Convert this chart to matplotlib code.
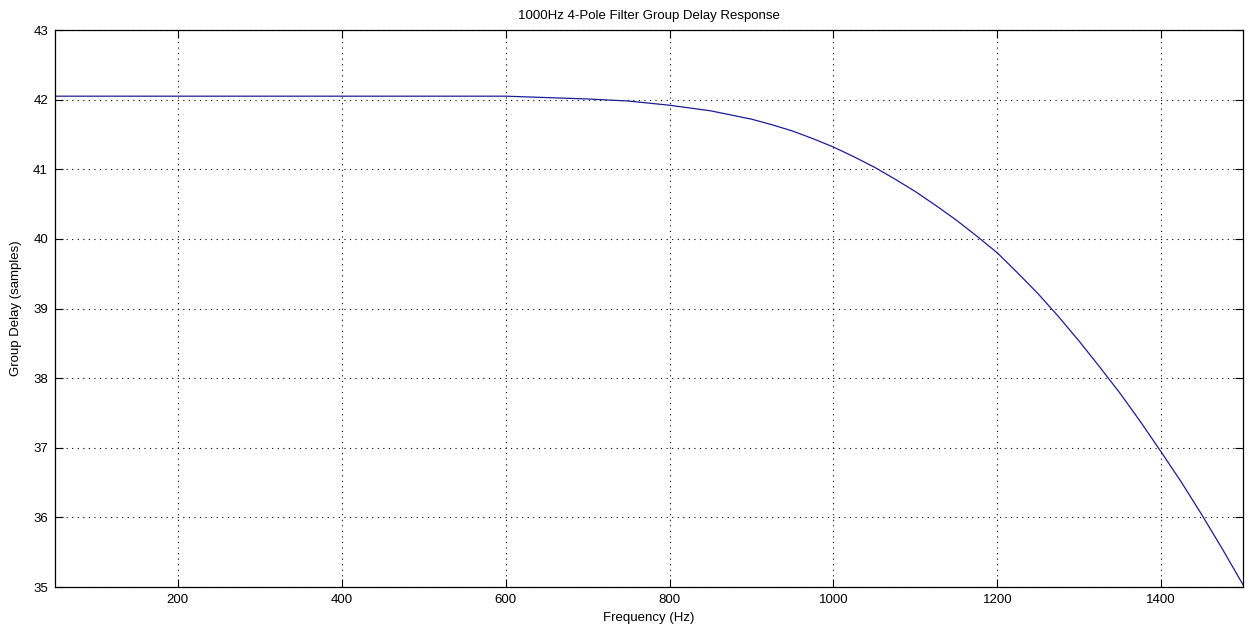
import numpy as np
import matplotlib
matplotlib.use('Agg')
import matplotlib.pyplot as plt

plt.rcParams['font.family'] = ['Liberation Sans', 'DejaVu Sans']

# group delay (Hz, samples)
freq_hz = [50, 600, 650, 700, 750, 800, 850, 900, 925, 950, 975, 1000,
           1025, 1050, 1075, 1100, 1125, 1150, 1175, 1200,
           1225, 1250, 1275, 1300, 1325, 1350, 1375, 1400, 1425, 1450, 1475, 1500]
delay_samples = [42.05, 42.05, 42.03, 42.01, 41.98, 41.92, 41.84, 41.72, 41.64, 41.55, 41.44, 41.32,
                 41.18, 41.03, 40.86, 40.68, 40.48, 40.27, 40.04, 39.80,
                 39.51, 39.21, 38.88, 38.53, 38.16, 37.78, 37.37, 36.94, 36.50, 36.03, 35.54, 35.03]

x_ticks = [200, 400, 600, 800, 1000, 1200, 1400]
y_ticks = [35, 36, 37, 38, 39, 40, 41, 42, 43]

fig = plt.figure(figsize=(12.52, 6.31), dpi=100)
ax = fig.add_axes([0.0439, 0.0697, 0.949, 0.8827])

ax.plot(freq_hz, delay_samples, color='#1c1c96', linewidth=0.9)

ax.set_xlim(50, 1500)
ax.set_ylim(35, 43)
ax.set_xticks(x_ticks)
ax.set_yticks(y_ticks)
ax.grid(True, color='black', linestyle=(0, (1, 4)), linewidth=0.8)

ax.tick_params(direction='in', length=6, top=True, right=True, labelsize=9.5, pad=5)
for s in ax.spines.values():
    s.set_linewidth(0.9)

ax.set_title('1000Hz 4-Pole Filter Group Delay Response', fontsize=9.5, pad=8)
ax.set_xlabel('Frequency (Hz)', fontsize=9.5, labelpad=4)
ax.set_ylabel('Group Delay (samples)', fontsize=9.5, labelpad=8)

fig.savefig('out.png', dpi=100)
